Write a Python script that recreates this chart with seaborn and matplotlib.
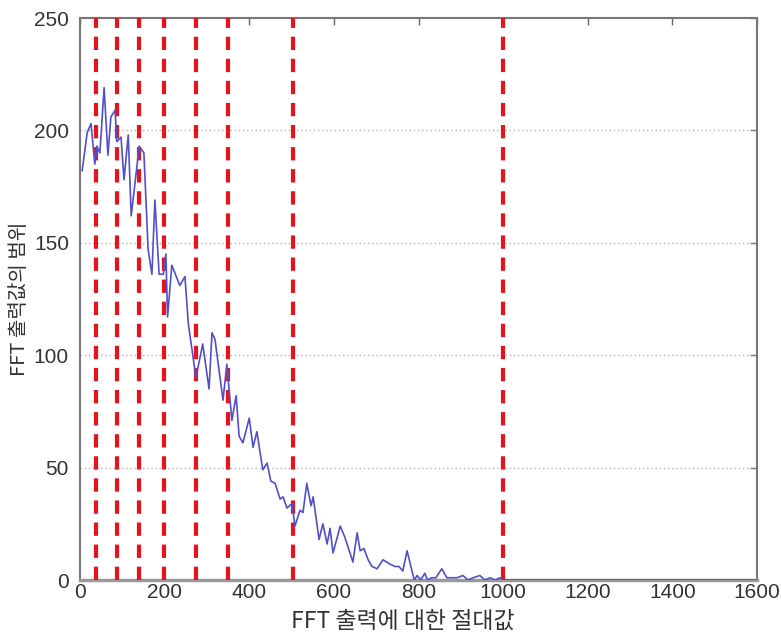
import matplotlib

matplotlib.use("Agg")
import matplotlib.pyplot as plt
import pandas as pd
import seaborn as sns

# |FFT| value vs range of FFT output
fft_abs = [
    5, 17, 26, 35, 40, 47, 57, 66, 73, 83, 87, 97, 104, 114, 121, 140, 151,
    161, 170, 177, 187, 197, 203, 207, 217, 236, 248, 256, 268, 274, 290, 305,
    312, 319, 338, 347, 359, 369, 376, 385, 400, 409, 418, 432, 442, 451, 461,
    473, 480, 489, 501, 508, 520, 527, 536, 546, 551, 565, 574, 584, 591, 598,
    615, 626, 645, 655, 662, 671, 681, 690, 702, 716, 733, 745, 754, 763, 773,
    782, 790, 797, 805, 815, 821, 831, 841, 855, 867, 879, 891, 905, 917, 929,
    945, 957, 969, 981, 993, 1000, 1600,
]
fft_range = [
    182, 199, 203, 185, 193, 190, 219, 189, 206, 209, 195, 197, 178, 198, 162,
    193, 190, 147, 136, 169, 136, 136, 145, 117, 140, 131, 135, 114, 98, 90,
    105, 85, 110, 107, 80, 96, 71, 82, 64, 61, 72, 59, 66, 49, 52, 44, 43, 36,
    37, 32, 34, 24, 31, 30, 43, 33, 37, 18, 25, 16, 23, 12, 24, 19, 8, 21, 13,
    14, 9, 6, 5, 9, 7, 6, 6, 4, 13, 6, 0, 2, 0, 3, 0, 1, 1, 5, 1, 1, 1, 2, 0,
    1, 2, 0, 1, 0, 1, 0, 0,
]
boundaries = [37, 87, 139, 199, 274, 350, 503, 1000]

x_ticks = [0, 200, 400, 600, 800, 1000, 1200, 1400, 1600]
y_ticks = [0, 50, 100, 150, 200, 250]

df = pd.DataFrame({"abs": fft_abs, "range": fft_range})

sns.set_style("white")
plt.rcParams["font.family"] = ["Liberation Sans", "Noto Sans CJK KR", "DejaVu Sans"]

fig = plt.figure(figsize=(7.81, 6.42), dpi=100)
ax = fig.add_axes([80 / 781, 62 / 642, 677 / 781, 562 / 642])

for b in boundaries:
    ax.axvline(b, color="#e8121c", lw=3.0, ls=(0, (3.2, 2.1)), zorder=3)

sns.lineplot(data=df, x="abs", y="range", ax=ax, color="#5050cc", lw=1.2, zorder=4)

ax.set_xlim(0, 1600)
ax.set_ylim(0, 250)
ax.set_xticks(x_ticks)
ax.set_yticks(y_ticks)
for yv in y_ticks[1:-1]:
    ax.axhline(yv, color="#b0b0b0", lw=1.0, ls=(0, (1, 2)), zorder=1)

ax.tick_params(direction="in", length=5, width=1, color="#666666",
               top=True, right=True, labelsize=15, labelcolor="#333333")
ax.tick_params(axis="x", pad=2)
ax.tick_params(axis="y", pad=8)
for side, sp in ax.spines.items():
    sp.set_color("#777777")
    sp.set_linewidth(1.5)
ax.spines["bottom"].set_color("#999999")
ax.spines["bottom"].set_linewidth(2.5)

label_font = ["Noto Sans CJK KR", "DejaVu Sans"]
ax.set_xlabel("FFT 출력에 대한 절대값", fontsize=16.5, color="#333333",
              family=label_font)
ax.set_ylabel("FFT 출력값의 범위", fontsize=14.5, color="#333333",
              family=label_font)
ax.xaxis.set_label_coords(323 / 677, -30 / 562)
ax.yaxis.set_label_coords(-50 / 677, 0.5)

fig.savefig("out.png", dpi=100)
